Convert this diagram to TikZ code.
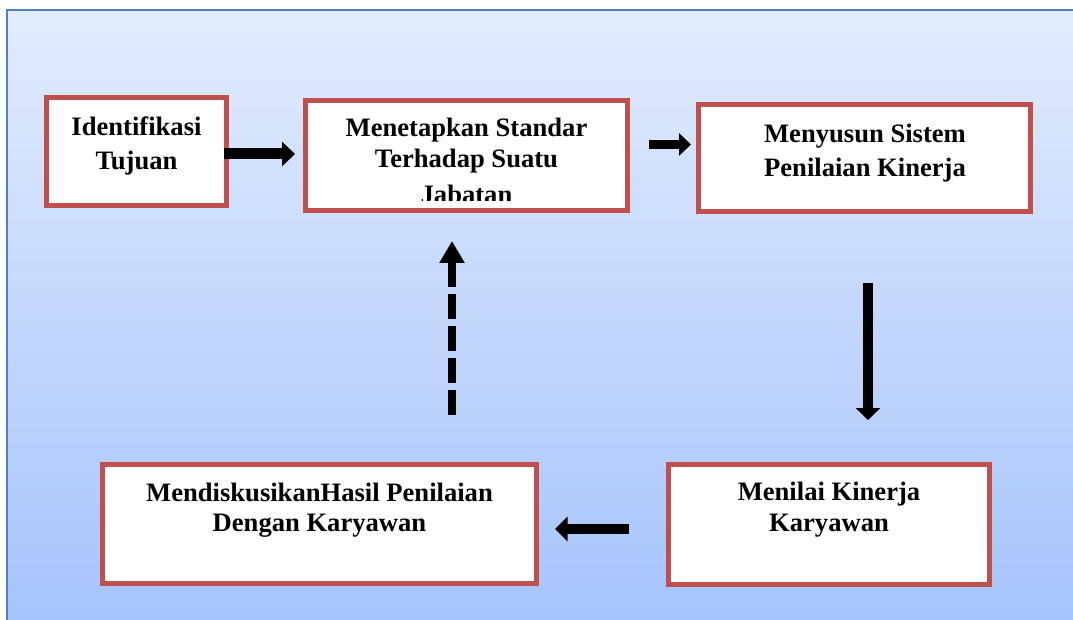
\documentclass[tikz,border=0pt]{standalone}
\usepackage{fontspec}
\setmainfont{Liberation Serif}
\usetikzlibrary{arrows.meta,calc}
\definecolor{boxred}{HTML}{C0504D}
\definecolor{frameblue}{HTML}{4F81BD}
\definecolor{bgtop}{HTML}{E2ECFC}
\definecolor{bgbottom}{HTML}{A5C3FC}
\newcommand{\topstrut}{\rule{0pt}{0.8em}}
\begin{document}
\begin{tikzpicture}[x=1pt, y=-1pt,
    stepbox/.style={draw=boxred, line width=5pt, fill=white, inner sep=0pt},
    steptext/.style={font=\bfseries\fontsize{26.6}{#1}\selectfont, align=center, inner sep=0pt, outer sep=0pt, anchor=north},
    blockarrow/.style={line width=10.5pt, -{Triangle[width=24pt,length=12pt]}}]
    \useasboundingbox (0,0) rectangle (1073,620);

    % Background frame with gradient
    \draw[frameblue, line width=2pt, top color=bgtop, bottom color=bgbottom] (7,10) rectangle (1085,632);

    % Boxes
    \node[stepbox, minimum width=180pt, minimum height=108pt] (ident) at (136.5,151.5) {};
    \node[stepbox, minimum width=322pt, minimum height=110pt] (menetap) at (466.5,155.5) {};
    \node[stepbox, minimum width=332pt, minimum height=107pt] (menyusun) at (864.5,158) {};
    \node[stepbox, minimum width=321pt, minimum height=120pt] (menilai) at (829,524.5) {};
    \node[stepbox, minimum width=434pt, minimum height=119pt] (diskusi) at (319.5,524) {};

    % Box texts (set near the top of each box)
    \node[steptext=34] (identtxt) at ($(ident.north)+(0,19.7)$) {\topstrut Identifikasi\\Tujuan};
    \begin{scope}
        % last line is cut off by the box
        \clip (menetap.north west) rectangle ([shift={(0,-12.3)}]menetap.south east);
        \node[steptext=30.5] (menetaptxt) at ($(menetap.north)+(0,17.7)$) {\topstrut Menetapkan Standar\\Terhadap Suatu\\[6pt]Jabatan};
    \end{scope}
    \node[steptext=34] (menyusuntxt) at ($(menyusun.north)+(0.5,19.7)$) {\topstrut Menyusun Sistem\\Penilaian Kinerja};
    \node[steptext=31] (menilaitxt) at ($(menilai.north)+(0,17.7)$) {\topstrut Menilai Kinerja\\Karyawan};
    \node[steptext=30.5] (diskusitxt) at ($(diskusi.north)+(0,18.2)$) {\topstrut MendiskusikanHasil Penilaian\\Dengan Karyawan};

    % Arrows
    \draw[blockarrow, line width=11pt, -{Triangle[width=24pt,length=13pt]}] ([shift={(-5,2.5)}]ident.east) -- ([shift={(-8,-1.5)}]menetap.west);
    \draw[blockarrow, line width=9pt, -{Triangle[width=22pt,length=12pt]}] ([shift={(19,-11)}]menetap.east) -- ([shift={(-5,-13.5)}]menyusun.west);
    \draw[blockarrow] ([shift={(3.5,69)}]menyusun.south) -- ([shift={(39,-42)}]menilai.north);
    \draw[blockarrow, -{Triangle[width=24pt,length=12.5pt]}] ([shift={(-37,4.5)}]menilai.west) -- ([shift={(16,5)}]diskusi.east);
    \draw[blockarrow, line width=8.7pt, dash pattern=on 25pt off 7pt, -{Triangle[width=24pt,length=22pt]}] ([shift={(132.5,-47)}]diskusi.north) -- ([shift={(-14.5,28)}]menetap.south);
\end{tikzpicture}
\end{document}
